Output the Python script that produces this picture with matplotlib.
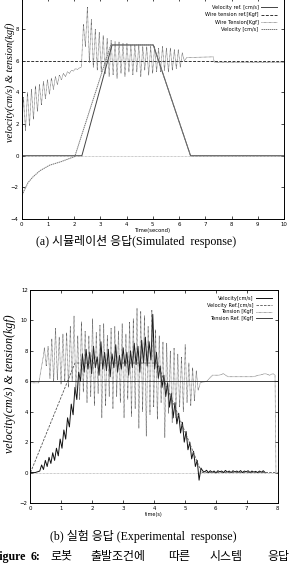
import numpy as np
import matplotlib
matplotlib.use('Agg')
import matplotlib.pyplot as plt

W, H = 289, 573

# ---------------- (a) simulated response ----------------
sim_vref_t = [0.0, 2.3, 3.45, 5.02, 6.44, 10.0]
sim_vref = [0.0, 0.0, 7.0, 7.0, 0.0, 0.0]
sim_tref_t = [0.0, 10.0]
sim_tref = [6.0, 6.0]
sim_vel_t = [0.0, 0.1, 0.25, 0.43, 0.7, 1.07, 1.5, 2.03, 3.4, 5.02, 6.44, 10.0]
sim_vel = [-2.6, -2.2, -1.7, -1.35, -0.95, -0.6, -0.38, -0.05, 7.0, 7.0, 0.0, 0.0]
# wire tension, sampled on the rise (0 .. 2.28 s)
sim_ten_rise = [1.2, 3.7, 1.6, 4.0, 1.9, 4.2, 2.3, 4.4, 2.8, 4.5, 3.2, 4.7, 3.6, 4.8,
                3.9, 4.9, 4.2, 5.0, 4.5, 5.1, 4.8, 5.2, 5.0, 5.3, 5.2, 5.4, 5.35,
                5.5, 5.45, 5.55, 5.6]
# wire tension, oscillating part (2.36 .. 6.2 s)
sim_ten_osc = [8.3, 6.9, 9.4, 5.9, 8.6, 5.6, 8.0, 5.4, 7.8, 5.3, 7.6, 5.2, 7.4, 5.0,
               7.3, 5.1, 7.2, 4.9, 7.2, 5.2, 7.1, 5.0, 7.1, 5.3, 7.0, 5.1, 7.0, 5.3,
               7.0, 5.0, 6.9, 5.4, 6.9, 5.1, 6.9, 5.2, 6.9, 5.3, 6.8, 5.3, 6.9, 5.4,
               6.8, 5.3, 6.8, 5.4, 6.7, 5.5, 6.7, 5.6, 6.5, 6.0]
sim_ten_tail_t = [6.3, 7.3, 7.35, 10.0]
sim_ten_tail = [6.2, 6.25, 5.9, 5.9]

# ---------------- (b) experimental response ----------------
exp_vref_t = [0.0, 1.44, 4.1, 5.54, 8.0]
exp_vref = [0.0, 7.2, 7.2, 0.0, 0.0]
exp_tref_t = [0.0, 8.0]
exp_tref = [6.0, 6.0]
# velocity, noisy part (0.30 .. 5.58 s)
exp_vel_head_t = [0.0, 0.15]
exp_vel_head = [0.0, 0.0]
exp_vel = [0.1, 0.5, 0.2, 0.8, 0.4, 1.0, 0.6, 1.3, 0.8, 1.6, 1.1, 2.2, 1.6, 2.8, 2.2,
           3.6, 3.0, 4.5, 3.8, 5.6, 4.8, 6.6, 6.0, 7.8, 6.6, 8.1, 6.8, 7.9, 6.5, 8.3,
           6.9, 7.6, 6.4, 8.6, 6.8, 7.9, 6.7, 8.1, 6.3, 7.8, 6.9, 8.4, 6.6, 7.7, 6.8,
           8.2, 7.0, 7.9, 6.4, 8.0, 6.9, 8.5, 7.1, 8.3, 6.6, 8.7, 7.2, 8.9, 7.0, 8.6,
           7.4, 10.4, 6.8, 7.9, 6.2, 7.0, 5.6, 6.4, 5.0, 5.9, 4.3, 5.2, 3.6, 4.6, 3.2,
           3.9, 2.6, 3.3, 2.0, 2.7, 1.5, 2.0, 0.9, 1.4, 0.4, 0.8, -0.5, 0.3, 0.1]
exp_vel_tail = [0.05, 0.15, 0.0, 0.12, 0.02, 0.1, -0.02, 0.12, 0.05, 0.1, 0.0, 0.14,
                0.03, 0.1, 0.0, 0.12, 0.04, 0.1, 0.02, 0.13, 0.0, 0.1, 0.05, 0.12,
                0.0, 0.1, 0.03, 0.08, 0.0, 0.1, 0.02, 0.12, 0.0]
# tension
exp_ten_head_t = [0.0, 0.27, 0.42]
exp_ten_head = [5.9, 5.9, 7.7]
exp_ten = [8.2, 7.0, 8.3, 6.2, 8.8, 6.0, 9.5, 6.1, 8.9, 5.8, 9.1, 6.0, 9.2, 5.6, 9.6,
           6.0, 10.3, 5.2, 9.0, 4.8, 9.9, 5.3, 9.3, 4.6, 9.0, 5.0, 10.1, 4.4, 9.2,
           5.2, 9.7, 3.6, 9.8, 4.4, 9.0, 5.0, 9.5, 4.2, 9.6, 5.0, 9.3, 4.6, 9.8, 3.6,
           9.1, 4.8, 9.9, 3.7, 10.1, 4.2, 10.8, 2.9, 10.6, 4.0, 10.3, 2.4, 9.6, 3.8,
           10.7, 4.3, 9.4, 3.5, 9.0, 4.6, 8.6, 2.3, 8.5, 3.9, 8.0, 3.3, 8.2, 3.6, 7.8,
           4.3, 7.6, 4.0, 8.4, 4.6, 7.2, 4.4, 6.9, 4.7, 6.7, 5.4]
exp_ten_tail_t = [5.5, 5.7, 5.9, 6.1, 6.25, 6.4, 6.8, 7.2, 7.4, 7.6, 7.75, 7.85, 7.92, 7.95]
exp_ten_tail = [5.9, 6.0, 6.4, 6.4, 6.5, 6.3, 6.3, 6.3, 6.4, 6.5, 6.4, 6.5, 6.4, 0.0]

fig = plt.figure(figsize=(W / 100, H / 100), dpi=100)


def px_axes(x0, y0, x1, y1):
    return fig.add_axes([x0 / W, 1 - y1 / H, (x1 - x0) / W, (y1 - y0) / H])


def style(ax):
    ax.tick_params(direction='in', top=True, right=True, length=2.5, width=0.5,
                   labelsize=3.9, pad=2)
    for s in ax.spines.values():
        s.set_linewidth(0.7)


serif_kr = ['Liberation Serif', 'Noto Sans CJK KR']

# ---- top ----
ax1 = px_axes(21.5, -2.5, 284, 219)
t_rise = np.linspace(0.0, 2.28, len(sim_ten_rise))
t_osc = np.linspace(2.36, 6.2, len(sim_ten_osc))
ten_t = np.concatenate([t_rise, t_osc, sim_ten_tail_t])
ten_v = np.concatenate([sim_ten_rise, sim_ten_osc, sim_ten_tail])
ax1.axhline(0, color='#999999', lw=0.5, ls=(0, (1, 1)))
ax1.plot(sim_vref_t, sim_vref, color='#444444', lw=0.7, label='Velocity ref. [cm/s]')
ax1.plot(sim_tref_t, sim_tref, color='#333333', lw=0.7, ls=(0, (3, 1.5)),
         label='Wire tension ref.[Kgf]')
ax1.plot(ten_t, ten_v, color='#555555', lw=0.5, ls=(0, (1, 0.8)),
         label='Wire Tension[Kgf]')
ax1.plot(sim_vel_t, sim_vel, color='#777777', lw=0.7, ls=(0, (1.5, 0.6)),
         label='Velocity [cm/s]')
ax1.set_xlim(0, 10)
ax1.set_ylim(-4, 10)
ax1.set_xticks(range(0, 11))
ax1.set_yticks(range(-4, 11, 2))
style(ax1)
ax1.set_xlabel('Time(second)', fontsize=3.8, labelpad=1)
ax1.legend(loc='upper right', markerfirst=False, fontsize=3.6, frameon=False,
           handlelength=3.2, labelspacing=0.45, borderaxespad=1.1, handletextpad=0.4)

# ---- bottom ----
ax2 = px_axes(30.5, 290, 277.5, 503)
v_t = np.linspace(0.30, 5.58, len(exp_vel))
vt_t = np.linspace(5.64, 7.6, len(exp_vel_tail))
vel_t = np.concatenate([exp_vel_head_t, v_t, vt_t])
vel_v = np.concatenate([exp_vel_head, exp_vel, exp_vel_tail])
te_t = np.linspace(0.45, 5.43, len(exp_ten))
ten2_t = np.concatenate([exp_ten_head_t, te_t, exp_ten_tail_t])
ten2_v = np.concatenate([exp_ten_head, exp_ten, exp_ten_tail])
ax2.axhline(0, color='#999999', lw=0.5, ls=(0, (1, 1)))
ax2.plot(vel_t, vel_v, color='#111111', lw=0.7, label='Velocity[cm/s]')
ax2.plot(exp_vref_t, exp_vref, color='#555555', lw=0.6, ls=(0, (3, 1.5)),
         label='Velocity Ref.[cm/s]')
ax2.plot(ten2_t, ten2_v, color='#555555', lw=0.5, ls=(0, (1, 0.8)),
         label='Tension [Kgf]')
ax2.plot(exp_tref_t, exp_tref, color='#222222', lw=0.6, label='Tension Ref. [Kgf]')
ax2.set_xlim(0, 8)
ax2.set_ylim(-2, 12)
ax2.set_xticks(range(0, 9))
ax2.set_yticks(range(-2, 13, 2))
style(ax2)
ax2.set_xlabel('time(s)', fontsize=3.6, labelpad=1)
ax2.legend(loc='upper right', markerfirst=False, fontsize=3.6, frameon=False,
           handlelength=3.2, labelspacing=0.35, borderaxespad=0.8, handletextpad=0.4)

# ---- y labels ----
fig.text(10 / W, 1 - 82 / H, 'velocity(cm/s) & tension(kgf)', rotation=90,
         ha='center', va='center', fontsize=7.4, style='italic',
         family='Liberation Serif')
fig.text(10 / W, 1 - 384 / H, 'velocity(cm/s) & tension(kgf)', rotation=90,
         ha='center', va='center', fontsize=8.6, style='italic',
         family='Liberation Serif')

# ---- captions ----
fig.text(136 / W, 1 - 242 / H, '(a) 시뮬레이션 응답(Simulated  response)',
         ha='center', va='center', fontsize=8.6, family=serif_kr)
fig.text(143 / W, 1 - 536 / H, '(b) 실험 응답 (Experimental  response)',
         ha='center', va='center', fontsize=8.6, family=serif_kr)

words = [('Figure', -7, 'bold'), ('6:', 31, 'bold'), ('로봇', 50, 'normal'),
         ('출발조건에', 90, 'normal'), ('따른', 168, 'normal'),
         ('시스템', 210, 'normal'), ('응답', 267, 'normal')]
for w, x, wt in words:
    fig.text(x / W, 1 - 557 / H, w, ha='left', va='center', fontsize=8.6,
             weight=wt, family=serif_kr)
fig.text(8 / W, 1 - 580 / H, '=5[m/s²],  t  = 0.5[s])', ha='left', va='center',
         fontsize=8.6, family=serif_kr)

fig.savefig('out.png', dpi=100)
